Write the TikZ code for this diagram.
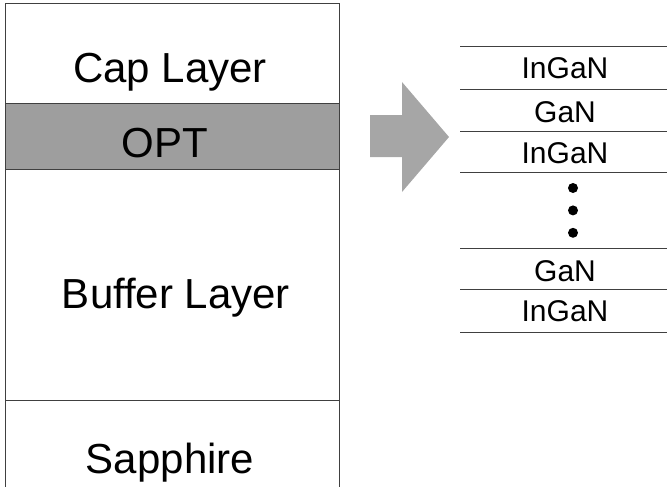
\documentclass[tikz,border=0pt]{standalone}
\usepackage{fontspec}
\setmainfont{Liberation Sans}
\usepackage{tikz}
\usetikzlibrary{positioning}

\begin{document}
\begin{tikzpicture}[
  x=1pt, y=-1pt,
  layer/.style={draw=black!75, line width=0.9pt},
  biglabel/.style={font=\fontsize{42}{42}\selectfont, inner sep=0pt, anchor=base},
  smalllabel/.style={font=\fontsize{30}{30}\selectfont, inner sep=0pt, anchor=base},
  dot/.style={circle, fill=black, inner sep=0pt, minimum size=10pt}]
\useasboundingbox (0,0) rectangle (667,487);

% left structure
\fill[black!38] (5,103) rectangle (339,169);
\coordinate (tl) at (5,3);
\coordinate (tr) at (339,3);
\coordinate (bl) at (5,487);
\coordinate (br) at (339,487);
\draw[layer] (bl) -- (tl) -- (tr) -- (br);
\foreach \yy in {103,169,400}
  \draw[layer] (5,\yy) -- (339,\yy);

\node[biglabel] (cap) at (170,82) {Cap Layer};
\node[biglabel] (opt) at (165,157) {OPT};
\node[biglabel] (buffer) at (176,308) {Buffer Layer};
\node[biglabel] (sapphire) at (170,473) {Sapphire};

% arrow
\fill[black!35] (370,115) -- (402,115) -- (402,82) -- (449,137)
  -- (402,192) -- (402,157) -- (370,157) -- cycle;

% right stack
\foreach \yy in {46,89,131,172,248,289,332}
  \draw[layer, line width=0.8pt] (460,\yy) -- (667,\yy);

\node[smalllabel] (l1) at (565,78) {InGaN};
\node[smalllabel] (l2) at (565,122) {GaN};
\node[smalllabel] (l3) at (565,163) {InGaN};
\node[dot] (d1) at (573,188) {};
\node[dot, below=12pt of d1] (d2) {};
\node[dot, below=12pt of d2] (d3) {};
\node[smalllabel] (l4) at (565,281) {GaN};
\node[smalllabel] (l5) at (565,321) {InGaN};
\end{tikzpicture}
\end{document}
